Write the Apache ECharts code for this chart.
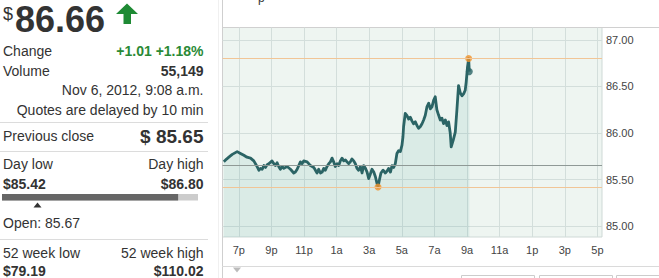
<!DOCTYPE html>
<html><head><meta charset="utf-8">
<script src="https://cdn.jsdelivr.net/npm/echarts@6/dist/echarts.min.js"></script>
<style>html,body{margin:0;padding:0;background:#fff;overflow:hidden}#c{width:659px;height:278px}</style>
</head><body><div id="c"></div>
<script>
// ---- data (hours counted from midnight Nov 5; 24 = midnight Nov 6) ----
const hours = [18.08,18.25,18.39,18.60,18.90,19.10,19.31,19.50,19.72,19.92,20.12,20.23,20.33,20.43,20.54,20.64,20.74,20.84,21.04,21.15,21.25,21.35,21.45,21.55,21.66,21.76,21.96,22.17,22.37,22.47,22.58,22.68,22.78,22.88,22.98,23.19,23.29,23.39,23.50,23.60,23.70,23.80,23.90,24.01,24.11,24.21,24.31,24.41,24.52,24.62,24.72,24.82,24.92,25.03,25.13,25.23,25.33,25.44,25.54,25.64,25.74,25.84,25.94,26.05,26.15,26.25,26.35,26.46,26.56,26.66,26.77,26.87,26.97,27.07,27.17,27.28,27.38,27.46,27.54,27.63,27.72,27.85,27.99,28.09,28.19,28.30,28.40,28.50,28.60,28.70,28.80,28.91,29.01,29.07,29.11,29.21,29.31,29.42,29.52,29.62,29.72,29.83,29.93,30.03,30.14,30.24,30.34,30.44,30.54,30.65,30.75,30.85,30.95,31.05,31.15,31.26,31.36,31.46,31.56,31.67,31.77,31.87,31.97,32.03,32.15,32.28,32.38,32.48,32.59,32.69,32.79,32.89,32.95,33.03,33.10,33.14];
const prices = [85.69,85.72,85.74,85.77,85.80,85.78,85.76,85.74,85.73,85.70,85.64,85.60,85.62,85.61,85.65,85.63,85.66,85.67,85.70,85.67,85.65,85.68,85.64,85.61,85.64,85.62,85.64,85.61,85.57,85.58,85.61,85.65,85.69,85.67,85.70,85.69,85.67,85.65,85.64,85.63,85.60,85.57,85.61,85.57,85.58,85.62,85.60,85.64,85.67,85.69,85.73,85.69,85.64,85.67,85.65,85.70,85.73,85.70,85.71,85.69,85.67,85.69,85.72,85.70,85.67,85.62,85.60,85.64,85.57,85.65,85.62,85.58,85.51,85.56,85.61,85.58,85.53,85.47,85.42,85.50,85.57,85.60,85.57,85.59,85.62,85.58,85.65,85.63,85.67,85.78,85.81,85.80,85.87,85.96,86.07,86.21,86.19,86.15,86.17,86.13,86.10,86.12,86.08,86.05,86.07,86.10,86.14,86.19,86.28,86.32,86.26,86.28,86.35,86.39,86.25,86.19,86.14,86.16,86.10,86.14,86.08,86.12,86.00,85.85,85.92,86.01,86.25,86.51,86.43,86.40,86.42,86.46,86.55,86.71,86.80,86.66];
const xTickHours = [19,21,23,25,27,29,31,33,35,37,39,41];
const xTickLabels = ['7p','9p','11p','1a','3a','5a','7a','9a','11a','1p','3p','5p'];
const yTickValues = [85.00,85.50,86.00,86.50,87.00];
const lastPrice = 86.66;
const prevClose = 85.65;
const dayLow = 85.42;
const dayHigh = 86.80;
const openPrice = 85.67;
const changeText = '+1.01 +1.18%';
const volumeText = '55,149';
const dateText = 'Nov 6, 2012, 9:08 a.m.';
const week52Low = '$79.19';
const week52High = '$110.02';

const FONT = "'Liberation Sans', Arial, sans-serif";
const TXT = '#333';

function T(x, y, s, size, opts) {
  opts = opts || {};
  return {type:'text', x:x, y:y, silent:true, style:{
    text:s, font:(opts.bold?'bold ':'')+size+'px '+FONT, fill:opts.color||TXT,
    align:opts.align||'left', textAlign:opts.align||'left',
    verticalAlign:opts.va||'middle', textVerticalAlign:opts.va||'middle'}};
}
function L(x1,y1,x2,y2,c){return {type:'line',silent:true,shape:{x1:x1,y1:y1,x2:x2,y2:y2},style:{stroke:c,lineWidth:1}};}

const RX = 203.5;
const barX = 2, barW = 196;
const curFrac = (lastPrice - dayLow) / (dayHigh - dayLow);
const openFrac = (openPrice - dayLow) / (dayHigh - dayLow);
const openX = barX + openFrac * barW;

const graphics = [
  T(3, 5, '$', 18, {va:'top'}),
  T(15, 19, lastPrice.toFixed(2), 36, {bold:true}),
  {type:'polygon', silent:true, shape:{points:[[116,14],[127,3.5],[138,14],[131,14],[131,24],[123.5,24],[123.5,14]]}, style:{fill:'#1e8a34'}},
  T(3, 51, 'Change', 14),
  T(RX, 51, changeText, 14, {bold:true, align:'right', color:'#2a8a36'}),
  T(3, 71, 'Volume', 14),
  T(RX, 71, volumeText, 14, {bold:true, align:'right'}),
  T(RX, 90, dateText, 14, {align:'right'}),
  T(RX, 110, 'Quotes are delayed by 10 min', 14, {align:'right'}),
  L(0, 122.5, 208, 122.5, '#dcdcdc'),
  T(3, 136, 'Previous close', 14),
  T(RX, 136, '$ ' + prevClose.toFixed(2), 19, {bold:true, align:'right'}),
  L(0, 151.5, 208, 151.5, '#dcdcdc'),
  T(3, 164, 'Day low', 14),
  T(RX, 164, 'Day high', 14, {align:'right'}),
  T(3, 184, '$' + dayLow.toFixed(2), 14, {bold:true}),
  T(RX, 184, '$' + dayHigh.toFixed(2), 14, {bold:true, align:'right'}),
  {type:'rect', silent:true, shape:{x:barX, y:194, width:barW, height:6.5}, style:{fill:'#cccccc'}},
  {type:'rect', silent:true, shape:{x:barX, y:194, width:curFrac*barW, height:6.5}, style:{fill:'#666666'}},
  {type:'polygon', silent:true, shape:{points:[[openX-4,207.5],[openX,202.5],[openX+4,207.5]]}, style:{fill:'#333'}},
  T(3, 222.5, 'Open: ' + openPrice.toFixed(2), 14),
  L(0, 239.5, 208, 239.5, '#dcdcdc'),
  T(3, 253, '52 week low', 14),
  T(RX, 253, '52 week high', 14, {align:'right'}),
  T(3, 271, week52Low, 14, {bold:true}),
  T(RX, 271, week52High, 14, {bold:true, align:'right'}),
  L(218.5, 0, 218.5, 278, '#f0f0f0'),
  L(222.5, 0, 222.5, 278, '#cfcfcf'),
  L(222, 27.5, 659, 27.5, '#d0d0d0'),
  L(222, 266.5, 659, 266.5, '#dadada'),
  {type:'polygon', silent:true, shape:{points:[[233,267.5],[241,267.5],[237,272.5]]}, style:{fill:'#bbbbbb'}},
  {type:'rect', silent:true, shape:{x:461.5, y:275.5, width:73, height:10}, style:{fill:'#fff', stroke:'#cccccc', lineWidth:1}},
  {type:'rect', silent:true, shape:{x:539.5, y:275.5, width:73, height:10}, style:{fill:'#fff', stroke:'#cccccc', lineWidth:1}},
  {type:'rect', silent:true, shape:{x:616.5, y:275.5, width:60, height:10}, style:{fill:'#fff', stroke:'#cccccc', lineWidth:1}},
  T(258, 3.5, 'p', 12, {va:'bottom'})
];

const seriesData = hours.map((h, i) => [h, prices[i]]);
let hiIdx = 0, loIdx = 0;
prices.forEach((p, i) => { if (p > prices[hiIdx]) hiIdx = i; if (p < prices[loIdx]) loIdx = i; });
const lastIdx = prices.length - 1;

const chart = echarts.init(document.getElementById('c'), null, {renderer:'svg'});
chart.setOption({
  animation:false,
  grid:{left:222.5, right:57, top:27.5, bottom:41, show:true, backgroundColor:'#eef5f1', borderColor:'#cfd9d6', borderWidth:1},
  xAxis:{type:'value', min:18, max:41.28,
    axisLine:{show:false}, axisTick:{show:false, customValues:xTickHours},
    axisLabel:{customValues:xTickHours, margin:7, color:'#444', fontSize:11, fontFamily:FONT,
      formatter:v => { const i = xTickHours.indexOf(Math.round(v)); return i >= 0 ? xTickLabels[i] : ''; }},
    splitLine:{show:true, lineStyle:{color:'#d3dedb', width:1}}},
  yAxis:{type:'value', position:'right', min:84.882, max:87.134,
    axisLine:{show:false}, axisTick:{show:false, customValues:yTickValues},
    axisLabel:{customValues:yTickValues, margin:4, color:'#444', fontSize:11, fontFamily:FONT, formatter:v => v.toFixed(2)},
    splitLine:{show:true, lineStyle:{color:'#d3dedb', width:1}}},
  graphic:graphics,
  series:[
    {type:'line', data:[], z:1, silent:true,
      markLine:{silent:true, symbol:'none', label:{show:false}, animation:false,
        data:[
          {yAxis:prevClose, lineStyle:{color:'#8f9996', width:1, type:'solid'}},
          {yAxis:dayHigh, lineStyle:{color:'#f1c596', width:1, type:'solid'}},
          {yAxis:dayLow, lineStyle:{color:'#f1c596', width:1, type:'solid'}}
        ]}},
    {type:'line', data:seriesData, z:2, showSymbol:false, silent:true,
      lineStyle:{color:'#2b6465', width:2.8, join:'round'},
      areaStyle:{color:'rgba(70,160,150,0.17)'}},
    {type:'scatter', z:3, silent:true, symbolSize:7, itemStyle:{color:'#f0922a'},
      data:[seriesData[hiIdx], seriesData[loIdx]]},
    {type:'scatter', z:3, silent:true, symbolSize:7, itemStyle:{color:'#2b6465'},
      data:[seriesData[lastIdx]]}
  ]
});
</script>
</body></html>
